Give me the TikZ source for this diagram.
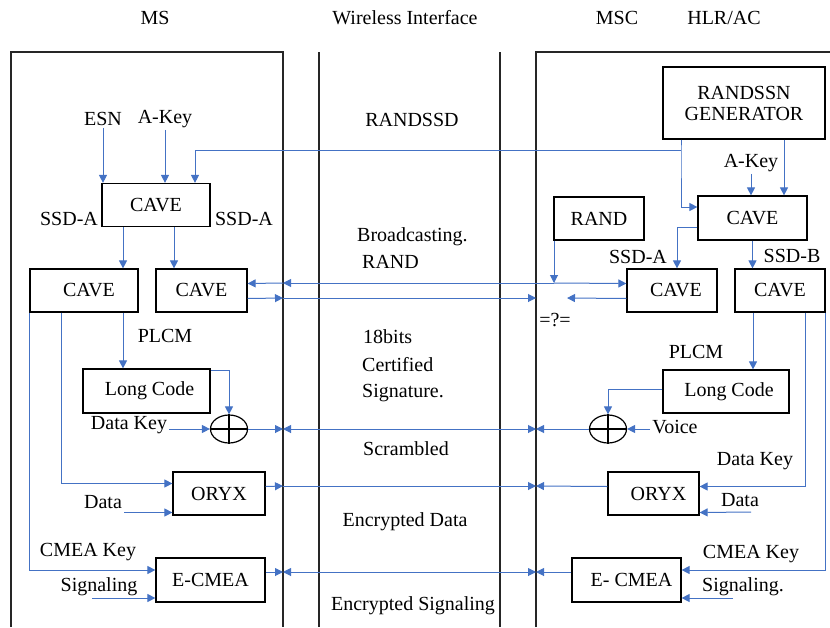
\documentclass[tikz,border=0pt]{standalone}
\usepackage{fontspec}
\setmainfont{Liberation Serif}
\usetikzlibrary{arrows.meta,shapes.geometric}
\definecolor{lineblue}{RGB}{68,114,196}

\begin{document}
\begin{tikzpicture}[x=1pt, y=-1pt, inner sep=2pt,
        font=\fontsize{20}{21}\selectfont,
        box/.style={draw, line width=1.2pt, inner sep=0pt},
        xor/.style={draw, ellipse, line width=1.2pt, minimum width=37, minimum height=28, inner sep=0pt},
        wall/.style={line width=1.3pt, black!85},
        arr/.style={draw=lineblue, line width=1pt, -{Triangle[length=8pt,width=8pt]}},
        darr/.style={arr, {Triangle[length=8pt,width=8pt]}-{Triangle[length=8pt,width=8pt]}}]
        \useasboundingbox (0,0) rectangle (830,627);

        % headings and frames
        \node at (155, 18) (hms)  {MS};
        \node at (405, 18) (hwi)  {Wireless Interface};
        \node at (617, 18) (hmsc) {MSC};
        \node at (724, 18) (hhlr) {HLR/AC};

        \draw[wall] (11,627) -- (11,52) -- (283,52) -- (283,627);
        \draw[wall] (319,52) -- (319,627);
        \draw[wall] (500,52) -- (500,627);
        \draw[wall] (536,627) -- (536,52) -- (830,52);

        % MS side
        \node[box, minimum width=108, minimum height=43] at (156,205)   (cave1)  {CAVE};
        \node[box, minimum width=108, minimum height=43] at ( 84,290.5) (cave2)  {\hspace{10pt}CAVE};
        \node[box, minimum width=91,  minimum height=43] at (201.5,290.5) (cave3) {CAVE};
        \node[box, minimum width=127, minimum height=44] at (146.5,391) (lc1)    {\hspace{6pt}Long Code};
        \node[xor]                                       at (229,429)   (xor1)   {};
        \node[box, minimum width=92,  minimum height=43] at (219,493.5) (oryx1)  {ORYX};
        \node[box, minimum width=109, minimum height=44] at (210.5,580) (ecmea1) {E-CMEA};

        \node at (103,119) (esn)   {ESN};
        \node at (165,119) (akey1) {A-Key};
        \node at ( 69,219) (ssda1) {SSD-A};
        \node at (244,219) (ssda2) {SSD-A};
        \node at (165,336) (plcm1) {PLCM};
        \node at (129,425) (dkey1) {Data Key};
        \node at (103,502) (data1) {Data};
        \node at ( 88,552) (cmea1) {CMEA Key};
        \node at ( 99,587) (sig1)  {Signaling};

        % MSC / HLR side
        \node[box, minimum width=162, minimum height=72, align=center] at (744,103) (gen) {RANDSSN\\GENERATOR};
        \node[box, minimum width=109, minimum height=44] at (752.5,218) (cave4)  {CAVE};
        \node[box, minimum width=90,  minimum height=43] at (599,218.5) (rand)   {RAND};
        \node[box, minimum width=90,  minimum height=43] at (672,290.5) (cave5)  {\hspace{8pt}CAVE};
        \node[box, minimum width=90,  minimum height=43] at (780,290.5) (cave6)  {CAVE};
        \node[box, minimum width=126, minimum height=43] at (726,391.5) (lc2)    {\hspace{6pt}Long Code};
        \node[xor]                                       at (608,429)   (xor2)   {};
        \node[box, minimum width=91,  minimum height=43] at (653.5,493.5) (oryx2) {\hspace{10pt}ORYX};
        \node[box, minimum width=109, minimum height=44] at (626.5,580) (ecmea2) {\hspace{10pt}E- CMEA};

        \node at (751,163) (akey2) {A-Key};
        \node at (638,257) (ssda3) {SSD-A};
        \node at (792,256) (ssdb)  {SSD-B};
        \node at (696,352) (plcm2) {PLCM};
        \node at (675,427) (voice) {Voice};
        \node at (755,461) (dkey2) {Data Key};
        \node at (740,500) (data2) {Data};
        \node at (751,554) (cmea2) {CMEA Key};
        \node at (743,587) (sig2)  {Signaling.};
        \node at (555,320) (neq)   {=?=};

        % wireless interface
        \node at (412,120) (randssd) {RANDSSD};
        \node[anchor=west] at (355,237) (bcast) {Broadcasting.};
        \node[anchor=west] at (360,262) (brand) {RAND};
        \node[anchor=west] at (361,337) (bits)  {18bits};
        \node[anchor=west] at (360,365) (cert)  {Certified};
        \node[anchor=west] at (360,393) (csig)  {Signature.};
        \node at (406,449) (scr)  {Scrambled};
        \node at (405,522) (encd) {Encrypted Data};
        \node at (413,606) (encs) {Encrypted Signaling};

        \draw[line width=1.2pt] (xor1.north) -- (xor1.south) (xor1.west) -- (xor1.east);
        \draw[line width=1.2pt] (xor2.north) -- (xor2.south) (xor2.west) -- (xor2.east);

        \coordinate (j1)  at (681,150);
        \coordinate (j2)  at (195,150);
        \coordinate (r1)  at (554,283);
        \coordinate (e2)  at (567,298);
        \coordinate (ms1) at (283,283);
        \coordinate (ms2) at (283,298);  \coordinate (msc2) at (536,298);
        \coordinate (ms3) at (283,429);  \coordinate (msc3) at (536,429);
        \coordinate (ms4) at (283,486);  \coordinate (msc4) at (536,486);
        \coordinate (ms5) at (283,572);  \coordinate (msc5) at (536,572);
        \coordinate (d1)  at ([yshift=-19]oryx1.west);
        \coordinate (s1)  at ([yshift=-18]ecmea1.west);
        \coordinate (d2)  at ([yshift=-19]oryx2.east);
        \coordinate (s2)  at ([yshift=-18]ecmea2.east);
        \coordinate (d2s) at (751,512);
        \coordinate (s1s) at (92,598);
        \coordinate (s2s) at (733,598);

        % MS side connectors
        \draw[arr] (esn.south) -- (esn.south |- cave1.north);
        \draw[arr] (akey1.south) -- (akey1.south |- cave1.north);
        \draw[arr] ([xshift=-33]cave1.south) -- ([xshift=39]cave2.north);
        \draw[arr] ([xshift=18]cave1.south) -- ([xshift=-27.5]cave3.north);
        \draw[arr] (cave2.south west) |- ([yshift=10]ecmea1.west);
        \draw[arr] ([xshift=32]cave2.south west) |- ([yshift=10]oryx1.west);
        \draw[arr] ([xshift=39]cave2.south) -- ([xshift=-23.5]lc1.north);
        \draw[arr] ([yshift=21]lc1.east) -| (xor1.north);
        \draw[arr] (dkey1.east |- xor1.west) -- (xor1.west);
        \draw[arr] (data1.east |- d1) -- (d1);
        \draw[arr] (s1s) -- (s1);

        % MSC side connectors
        \draw[arr] (gen.south -| j1) -- (j1) |- ([yshift=11]cave4.west);
        \draw[arr] (j1) -- (j2) -- (j2 |- cave1.north);
        \draw[arr] ([xshift=40]gen.south) -- ([xshift=31.5]cave4.north);
        \draw[arr] (akey2.south) -- (akey2.south |- cave4.north);
        \draw[arr] ([yshift=-9]cave4.west) -| ([xshift=5]cave5.north);
        \draw[arr] (cave4.south) -- (cave4.south |- cave6.north);
        \draw[arr] (rand.south -| r1) -- (r1);
        \draw[arr] ([xshift=-27]cave6.south) -- ([xshift=27]lc2.north);
        \draw[arr] ([yshift=2]lc2.west) -| (xor2.north);
        \draw[arr] (voice.west |- xor2.east) -- (xor2.east);
        \draw[arr] ([xshift=25]cave6.south) |- ([yshift=7]oryx2.east);
        \draw[arr] (cave6.south east) |- ([yshift=10]ecmea2.east);
        \draw[arr] (d2s) -- (d2);
        \draw[arr] (s2s) -- (s2);

        % across the air
        \draw[arr]  (r1) -- (ms1);
        \draw[arr]  (ms1) -- ([yshift=7]cave3.east);
        \draw[arr]  (r1) -- ([yshift=7]cave5.west);
        \draw[arr]  ([yshift=-8]cave3.east) -- (ms2);
        \draw[arr]  (ms2) -- (msc2);
        \draw[arr]  ([yshift=-8]cave5.west) -- (e2);
        \draw[arr]  (xor1.east) -- (ms3);
        \draw[darr] (ms3) -- (msc3);
        \draw[arr]  (xor2.west) -- (msc3);
        \draw[arr]  ([yshift=7]oryx1.east) -- (ms4);
        \draw[arr]  (ms4) -- (msc4);
        \draw[arr]  ([yshift=7]oryx2.west) -- (msc4);
        \draw[arr]  ([yshift=8]ecmea1.east) -- (ms5);
        \draw[darr] (ms5) -- (msc5);
        \draw[arr]  ([yshift=8]ecmea2.west) -- (msc5);
\end{tikzpicture}
\end{document}
